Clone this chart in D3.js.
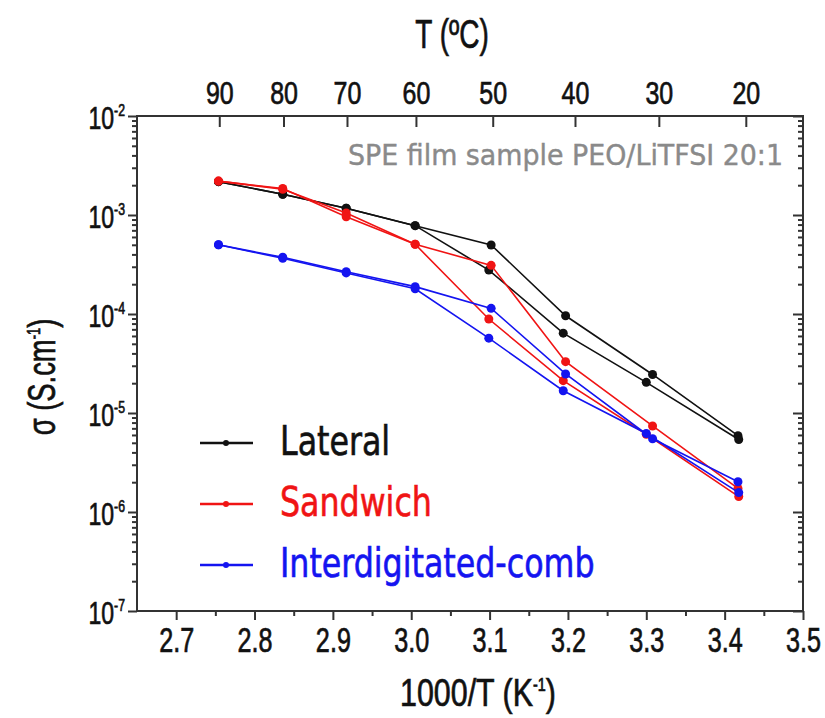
<!DOCTYPE html>
<html><head><meta charset="utf-8">
<script src="https://cdn.jsdelivr.net/npm/d3@7"></script>
<style>body{margin:0;background:#fff} svg{display:block}</style>
</head><body>
<svg id="c" width="825" height="718"></svg>
<script>
// ---- data ----
const xRunA = [2.754, 2.836, 2.917, 3.005, 3.102, 3.197, 3.308, 3.417];
const xRunB = [2.754, 2.836, 2.917, 3.005, 3.099, 3.194, 3.300, 3.418];
const lateralA  = [2.17e-3, 1.62e-3, 1.17e-3, 7.8e-4, 4.98e-4, 9.6e-5, 2.45e-5, 5.9e-6];
const lateralB  = [2.17e-3, 1.62e-3, 1.17e-3, 7.8e-4, 2.78e-4, 6.4e-5, 2.04e-5, 5.4e-6];
const sandwichA = [2.2e-3, 1.82e-3, 1.05e-3, 5.06e-4, 3.1e-4, 3.3e-5, 7.4e-6, 1.73e-6];
const sandwichB = [2.2e-3, 1.85e-3, 9.6e-4, 5.06e-4, 8.9e-5, 2.12e-5, 6.1e-6, 1.43e-6];
const combA = [5.0e-4, 3.74e-4, 2.67e-4, 1.89e-4, 1.14e-4, 2.48e-5, 5.5e-6, 2.02e-6];
const combB = [5.0e-4, 3.65e-4, 2.6e-4, 1.8e-4, 5.7e-5, 1.68e-5, 6.2e-6, 1.57e-6];
const seriesNames = ["Lateral", "Sandwich", "Interdigitated-comb"];
const tempLabels = [90, 80, 70, 60, 50, 40, 30, 20];
const tempTickPos = [2.755, 2.837, 2.918, 3.006, 3.104, 3.209, 3.316, 3.427];
const xTickValues = [2.7, 2.8, 2.9, 3.0, 3.1, 3.2, 3.3, 3.4, 3.5];
const yDecades = [-2, -3, -4, -5, -6, -7];
const annotation = "SPE film sample PEO/LiTFSI 20:1";

// ---- styles ----
const colors = ["#111111", "#f01414", "#1414f0"];
const NUM = "'Liberation Sans', Arial, sans-serif";
const TXT = "'DejaVu Sans Condensed', 'DejaVu Sans', sans-serif";
const AX = "#333";

const L = 137, R = 803, T = 116, B = 611;
const x = d3.scaleLinear().domain([2.65, 3.5]).range([L, R]);
const y = d3.scaleLog().domain([1e-7, 1e-2]).range([B, T]);
const svg = d3.select("#c");

// horizontally condense text (reference uses a condensed face)
function condense(sel, factor) {
  sel.each(function() {
    const w = this.getComputedTextLength();
    if (w > 0) d3.select(this).attr("textLength", w * factor).attr("lengthAdjust", "spacingAndGlyphs");
  });
}
function embolden(sel, color, w) {
  sel.attr("stroke", color).attr("stroke-width", w).attr("paint-order", "stroke");
}

function styleAxis(g, fs) {
  g.select(".domain").remove();
  g.selectAll("line").attr("stroke", AX).attr("stroke-width", 2);
  g.selectAll("text").attr("font-family", NUM).attr("font-size", fs).attr("fill", "#111");
}

// minor tick positions
const xMinor = d3.range(0, 8).map(i => 2.75 + 0.1 * i);
const yMinor = [];
yDecades.slice(1).forEach(d => { for (let m = 2; m <= 9; m++) yMinor.push(m * Math.pow(10, d)); });
const yMajor = yDecades.map(d => Math.pow(10, d));

// bottom axis
const bottomG = svg.append("g").attr("transform", `translate(0,${B})`)
  .call(d3.axisBottom(x).tickValues(xTickValues).tickFormat(d3.format(".1f")).tickSize(9).tickSizeOuter(0).tickPadding(7))
  .call(g => styleAxis(g, 35));
condense(bottomG.selectAll("text"), 0.72);
embolden(bottomG.selectAll("text"), "#111", 0.7);
svg.append("g").attr("transform", `translate(0,${B})`)
  .call(d3.axisBottom(x).tickValues(xMinor).tickFormat("").tickSize(5).tickSizeOuter(0))
  .call(g => styleAxis(g, 33));

// top axis (temperature)
const topG = svg.append("g").attr("transform", `translate(0,${T})`)
  .call(d3.axisTop(x).tickValues(tempTickPos).tickFormat((d, i) => tempLabels[i]).tickSize(-11).tickSizeOuter(0).tickPadding(12))
  .call(g => styleAxis(g, 32));
condense(topG.selectAll("text"), 0.78);
embolden(topG.selectAll("text"), "#111", 0.7);

// left axis
const leftG = svg.append("g").attr("transform", `translate(${L},0)`)
  .call(d3.axisLeft(y).tickValues(yMajor).tickFormat(d => d).tickSize(9).tickSizeOuter(0).tickPadding(3))
  .call(g => styleAxis(g, 32));
leftG.selectAll("text").each(function(d) {
  const t = d3.select(this);
  const e = Math.round(Math.log10(d));
  t.text("").attr("dy", 12);
  t.append("tspan").text("10");
  t.append("tspan").attr("font-size", 17).attr("dy", -13).text(String(e));
});
condense(leftG.selectAll("text"), 0.72);
embolden(leftG.selectAll("text"), "#111", 0.7);
svg.append("g").attr("transform", `translate(${L},0)`)
  .call(d3.axisLeft(y).tickValues(yMinor).tickFormat("").tickSize(5).tickSizeOuter(0))
  .call(g => styleAxis(g, 32));

// right axis
svg.append("g").attr("transform", `translate(${R},0)`)
  .call(d3.axisRight(y).tickValues(yMajor).tickFormat("").tickSize(-10).tickSizeOuter(0))
  .call(g => styleAxis(g, 32));
svg.append("g").attr("transform", `translate(${R},0)`)
  .call(d3.axisRight(y).tickValues(yMinor).tickFormat("").tickSize(-5).tickSizeOuter(0))
  .call(g => styleAxis(g, 32));

// frame
svg.append("rect").attr("x", L).attr("y", T).attr("width", R - L).attr("height", B - T)
  .attr("fill", "none").attr("stroke", AX).attr("stroke-width", 2);

// series
const series = [
  { runs: [[xRunA, lateralA], [xRunB, lateralB]] },
  { runs: [[xRunA, sandwichA], [xRunB, sandwichB]] },
  { runs: [[xRunA, combA], [xRunB, combB]] }
];
const line = d3.line().x(d => x(d[0])).y(d => y(d[1]));
series.forEach((s, si) => {
  const g = svg.append("g");
  s.runs.forEach(([xs, ys]) => {
    const pts = xs.map((xv, i) => [xv, ys[i]]);
    g.append("path").datum(pts).attr("d", line).attr("fill", "none")
      .attr("stroke", colors[si]).attr("stroke-width", 1.6);
    g.selectAll(null).data(pts).enter().append("circle")
      .attr("cx", d => x(d[0])).attr("cy", d => y(d[1])).attr("r", 4.5).attr("fill", colors[si]);
  });
});

// annotation
const ann = svg.append("text").attr("x", 783).attr("y", 165).attr("text-anchor", "end")
  .attr("font-family", TXT).attr("font-size", 29).attr("fill", "#8a8a8a").text(annotation);
ann.attr("textLength", 435).attr("lengthAdjust", "spacingAndGlyphs");
embolden(ann, "#8a8a8a", 0.4);

// legend
const lg = svg.append("g");
seriesNames.forEach((name, i) => {
  const yy = 443 + i * 61;
  lg.append("line").attr("x1", 200).attr("x2", 253).attr("y1", yy).attr("y2", yy)
    .attr("stroke", colors[i]).attr("stroke-width", 2.5);
  lg.append("circle").attr("cx", 226).attr("cy", yy).attr("r", 3).attr("fill", colors[i]);
  const t = lg.append("text").attr("x", 280).attr("y", yy + 12).attr("font-family", TXT)
    .attr("font-size", 40).attr("fill", colors[i]).text(name);
  condense(t, 0.88);
  embolden(t, colors[i], 0.6);
});

// axis titles
const topTitle = svg.append("text").attr("x", 452).attr("y", 48).attr("text-anchor", "middle")
  .attr("font-family", NUM).attr("font-size", 40).attr("fill", "#111").text("T (ºC)");
condense(topTitle, 0.7);
embolden(topTitle, "#111", 0.7);

const bt = svg.append("text").attr("x", 478).attr("y", 706).attr("text-anchor", "middle")
  .attr("font-family", NUM).attr("font-size", 38).attr("fill", "#111");
bt.append("tspan").text("1000/T (K");
bt.append("tspan").attr("font-size", 18).attr("dy", -15).text("-1");
bt.append("tspan").attr("dy", 15).text(")");
condense(bt, 0.8);
embolden(bt, "#111", 0.7);

const yt = svg.append("text").attr("transform", "translate(55,377) rotate(-90)").attr("text-anchor", "middle")
  .attr("font-family", NUM).attr("font-size", 38).attr("fill", "#111");
yt.append("tspan").text("σ (S.cm");
yt.append("tspan").attr("font-size", 18).attr("dy", -15).text("-1");
yt.append("tspan").attr("dy", 15).text(")");
condense(yt, 0.72);
embolden(yt, "#111", 0.7);
</script>
</body></html>
